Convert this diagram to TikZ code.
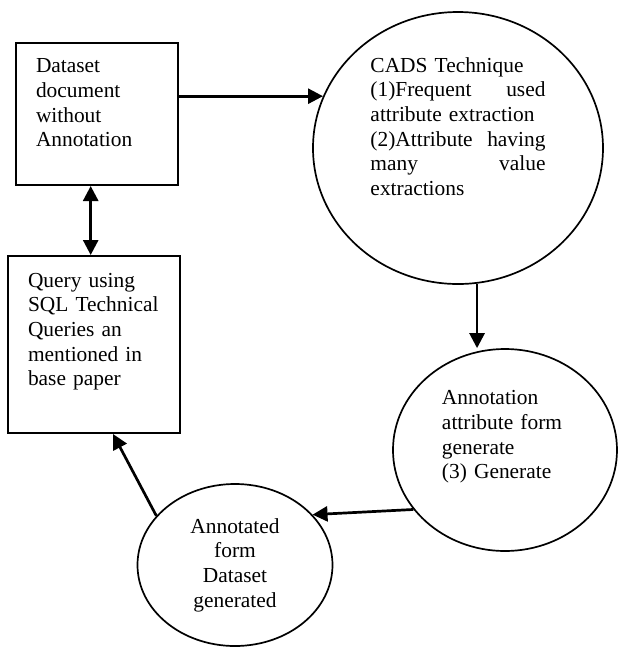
\documentclass[tikz,border=0pt]{standalone}
\usepackage{fontspec}
\setmainfont{Liberation Serif}
\usepackage{tikz}
\usetikzlibrary{arrows.meta, shapes.geometric}

\newcommand{\padbelow}[1]{\par\kern#1\relax}

\begin{document}
\begin{tikzpicture}[x=0.5pt, y=-0.5pt,
		every node/.style={font=\fontsize{10.7pt}{12.35pt}\selectfont},
		stagebox/.style={draw, line width=1pt, rectangle, inner xsep=10pt, align=left},
		stageoval/.style={draw, line width=0.85pt, ellipse, inner sep=0pt},
		flow/.style={line width=1.35pt, -{Triangle[length=7.5pt, width=7.5pt]}},
		twoway/.style={line width=1.35pt, {Triangle[length=7.5pt, width=7.5pt]}-{Triangle[length=7.5pt, width=7.5pt]}}]
				\useasboundingbox (0,0) rectangle (618,650);
				% left column
				\node[stagebox, minimum width=81pt, minimum height=71pt, text width=61pt] (dataset) at (97,114)
					{Dataset\\ document\\ without\\ Annotation\padbelow{11pt}};
				\node[stagebox, minimum width=86pt, minimum height=88.5pt, text width=66pt] (query) at (94,344.5)
					{Query using\\ SQL Technical\\ Queries an\\ mentioned in\\ base paper\padbelow{12.9pt}};
				% ovals
				\node[stageoval, minimum width=145pt, minimum height=136pt, text width=87.5pt, align=left] (cads) at (458,148)
					{CADS Technique\\ (1)Frequent\hfill used\\ attribute extraction\\ (2)Attribute\hfill having\\ many\hfill value\\ extractions\padbelow{21.5pt}};
				\node[stageoval, minimum width=112pt, minimum height=101pt, text width=63pt, align=left] (attrform) at (505,450)
					{Annotation\\ attribute form\\ generate\\ (3) Generate\padbelow{13pt}};
				\node[stageoval, minimum width=97.5pt, minimum height=81pt, align=center] (annotated) at (235,565)
					{Annotated\\ form\\ Dataset\\ generated};
				% connectors
				\draw[flow] (cads.159 -| dataset.east) -- (cads.159);
				\draw[twoway] (dataset.265) -- (dataset.265 |- query.north);
				\draw[flow] (cads.278) -- (cads.278 |- attrform.north);
				\draw[flow] (attrform.213) -- (annotated.33);
				\draw[flow] (annotated.148) -- (query.282);
			\end{tikzpicture}
\end{document}
